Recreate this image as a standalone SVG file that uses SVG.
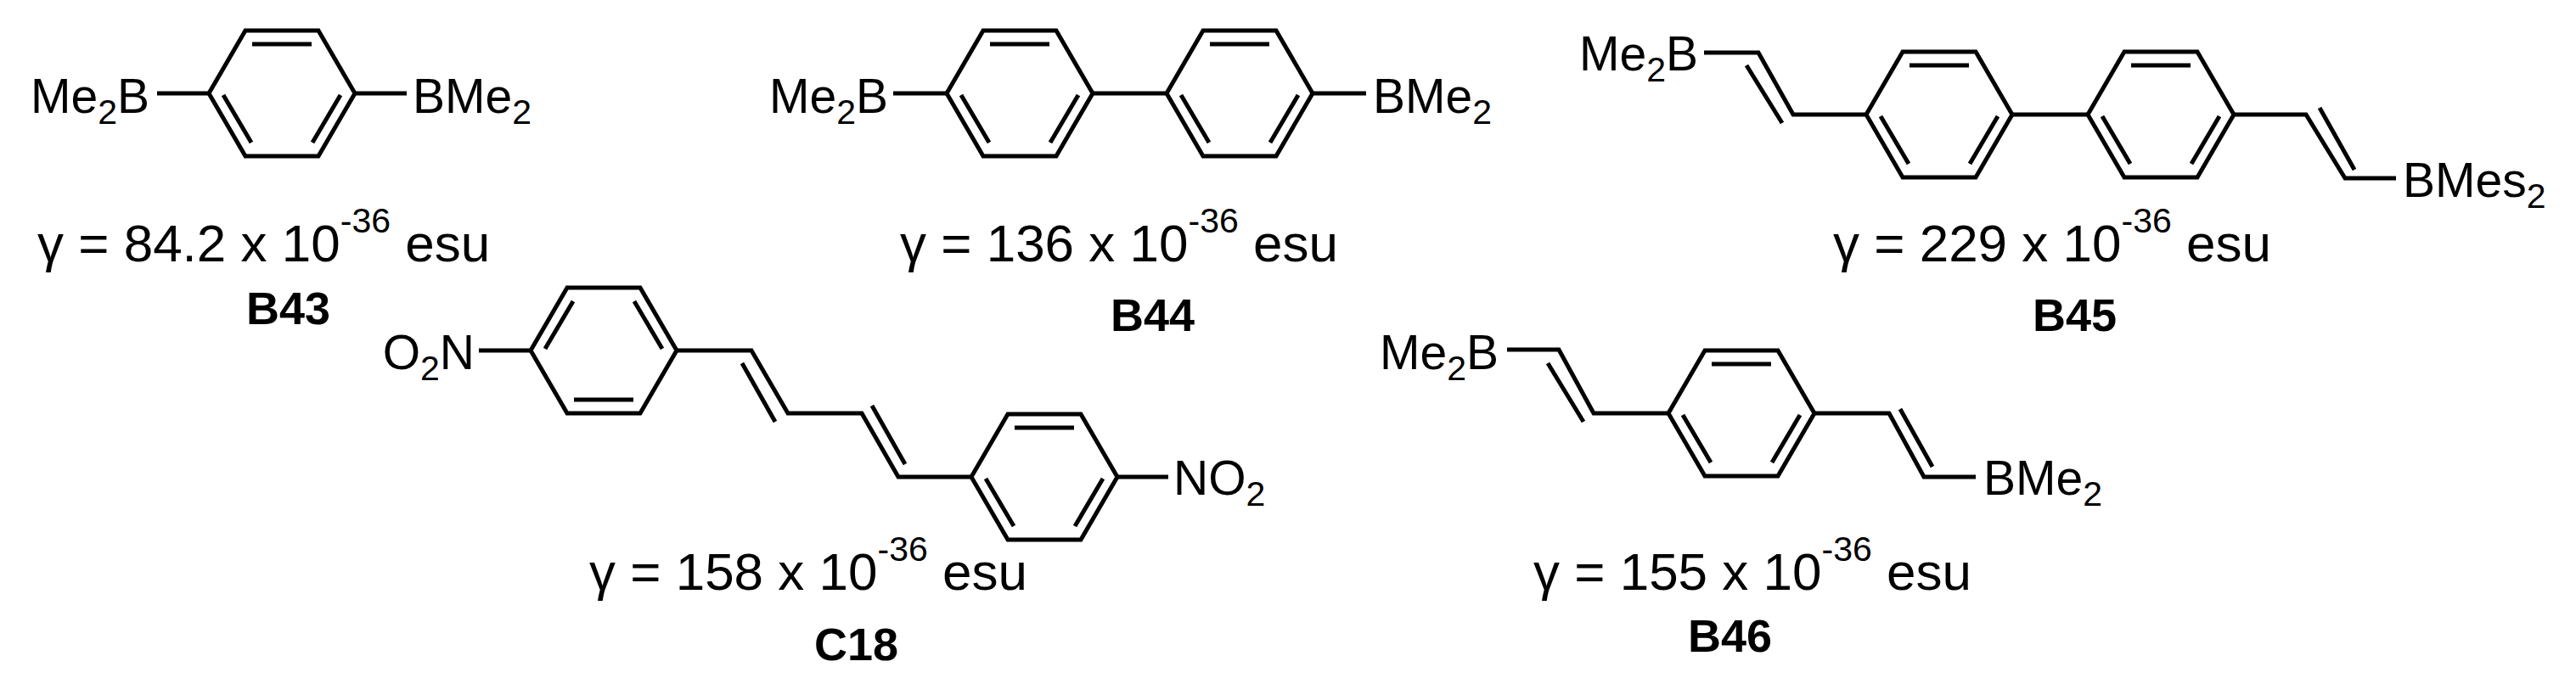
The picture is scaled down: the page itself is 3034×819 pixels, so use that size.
<svg xmlns="http://www.w3.org/2000/svg" xmlns:xlink="http://www.w3.org/1999/xlink" width="3034" height="819" viewBox="0 0 3034 819">
<style>
.b{fill:none;stroke:#000;stroke-width:5;stroke-linejoin:miter;stroke-linecap:butt}
.t{font-family:"Liberation Sans",Arial,sans-serif;font-size:57px;fill:#000}
.g{font-family:"Liberation Sans",Arial,sans-serif;font-size:62px;fill:#000}
.l{font-family:"Liberation Sans",Arial,sans-serif;font-size:54px;font-weight:bold;fill:#000}
.s{font-size:41px}
</style>
<defs>
<path id="ringA" class="b" d="M-86,0 L-43,-74 L43,-74 L86,0 L43,74 L-43,74 Z M-35,-58 L35,-58 M-69,2 L-36,58 M69,2 L36,58"/>
<path id="ringB" class="b" d="M-86,0 L-43,-74 L43,-74 L86,0 L43,74 L-43,74 Z M-35,58 L35,58 M-69,-2 L-36,-58 M69,-2 L36,-58"/>
</defs>
<rect width="3034" height="819" fill="#fff"/>
<g id="B43">
<use xlink:href="#ringA" x="332" y="110"/>
<text class="t" x="176" y="133" text-anchor="end">Me<tspan class="s" dy="13">2</tspan><tspan dy="-13">B</tspan></text>
<text class="t" x="486" y="133">BMe<tspan class="s" dy="13">2</tspan></text>
<text class="g" x="44" y="308">γ = 84.2 x 10<tspan class="s" dy="-34">-36</tspan><tspan dy="34"> esu</tspan></text>
<text class="l" x="290" y="382">B43</text>
</g>
<g id="B44">
<use xlink:href="#ringA" x="1201" y="110"/>
<use xlink:href="#ringA" x="1460" y="110"/>
<text class="t" x="1046" y="133" text-anchor="end">Me<tspan class="s" dy="13">2</tspan><tspan dy="-13">B</tspan></text>
<text class="t" x="1617" y="133">BMe<tspan class="s" dy="13">2</tspan></text>
<text class="g" x="1060" y="308">γ = 136 x 10<tspan class="s" dy="-34">-36</tspan><tspan dy="34"> esu</tspan></text>
<text class="l" x="1308" y="390">B44</text>
</g>
<g id="B45">
<use xlink:href="#ringA" x="2284" y="135"/>
<use xlink:href="#ringA" x="2545" y="135"/>
<text class="t" x="2000" y="83" text-anchor="end">Me<tspan class="s" dy="13">2</tspan><tspan dy="-13">B</tspan></text>
<text class="t" x="2830" y="232">BMes<tspan class="s" dy="13">2</tspan></text>
<text class="g" x="2159" y="308">γ = 229 x 10<tspan class="s" dy="-34">-36</tspan><tspan dy="34"> esu</tspan></text>
<text class="l" x="2394" y="390">B45</text>
</g>
<g id="C18">
<use xlink:href="#ringB" x="711" y="413"/>
<use xlink:href="#ringA" x="1230" y="562"/>
<text class="t" x="559" y="435" text-anchor="end">O<tspan class="s" dy="13">2</tspan><tspan dy="-13">N</tspan></text>
<text class="t" x="1382" y="583">NO<tspan class="s" dy="13">2</tspan></text>
<text class="g" x="694" y="695">γ = 158 x 10<tspan class="s" dy="-34">-36</tspan><tspan dy="34"> esu</tspan></text>
<text class="l" x="959" y="778">C18</text>
</g>
<g id="B46">
<use xlink:href="#ringA" x="2051" y="487"/>
<text class="t" x="1765" y="435" text-anchor="end">Me<tspan class="s" dy="13">2</tspan><tspan dy="-13">B</tspan></text>
<text class="t" x="2336" y="583">BMe<tspan class="s" dy="13">2</tspan></text>
<text class="g" x="1806" y="695">γ = 155 x 10<tspan class="s" dy="-34">-36</tspan><tspan dy="34"> esu</tspan></text>
<text class="l" x="1988" y="768">B46</text>
</g>
<g id="connectors" class="b">
<path d="M185,110 L246,110 M418,110 L479,110"/>
<path d="M1052,110 L1115,110 M1287,110 L1374,110 M1546,110 L1609,110"/>
<path d="M2007,62 L2071,62 L2112,135 L2198,135 M2057,77 L2099,145 M2370,135 L2459,135 M2631,135 L2716,135 L2762,210 L2822,210 M2732,127 L2773,200"/>
<path d="M564,413 L625,413 M797,413 L885,413 L928,487 L1015,487 L1058,562 L1144,562 M874,428 L913,497 M1027,478 L1066,547 M1316,562 L1376,562"/>
<path d="M1775,412 L1836,412 L1877,487 L1965,487 M1823,428 L1865,497 M2137,487 L2225,487 L2266,562 L2327,562 M2238,482 L2276,550"/>
</g>
</svg>
